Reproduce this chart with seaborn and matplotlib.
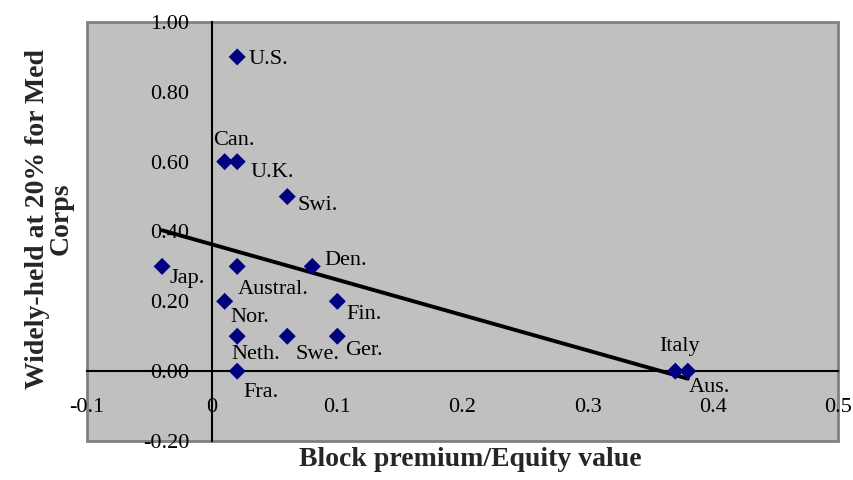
import matplotlib
matplotlib.use("Agg")
import matplotlib.pyplot as plt
import seaborn as sns
import numpy as np
import pandas as pd
from matplotlib.patches import Rectangle

# data
countries = ["U.S.", "Can.", "U.K.", "Swi.", "Jap.", "Austral.", "Den.", "Nor.",
             "Fin.", "Neth.", "Swe.", "Ger.", "Fra.", "Italy", "Aus."]
block_premium = [0.02, 0.01, 0.02, 0.06, -0.04, 0.02, 0.08, 0.01,
                 0.10, 0.02, 0.06, 0.10, 0.02, 0.37, 0.38]
widely_held = [0.90, 0.60, 0.60, 0.50, 0.30, 0.30, 0.30, 0.20,
               0.20, 0.10, 0.10, 0.10, 0.00, 0.00, 0.00]

x_ticks = [-0.1, 0.0, 0.1, 0.2, 0.3, 0.4, 0.5]
x_tick_labels = ["-0.1", "0", "0.1", "0.2", "0.3", "0.4", "0.5"]
y_ticks = [-0.2, 0.0, 0.2, 0.4, 0.6, 0.8, 1.0]
y_tick_labels = ["-0.20", "0.00", "0.20", "0.40", "0.60", "0.80", "1.00"]

# where each country name sits next to its marker (pixels, up is positive)
label_offsets = {
    "U.S.": (11, -3), "Can.": (-12, 21), "U.K.": (13, -11), "Swi.": (10, -9),
    "Jap.": (7, -12), "Austral.": (1, -23), "Den.": (12, 6), "Nor.": (6, -16),
    "Fin.": (9, -13), "Neth.": (-6, -18), "Swe.": (8, -18), "Ger.": (8, -14),
    "Fra.": (6, -21), "Italy": (-16, 25), "Aus.": (1, -16),
}

df = pd.DataFrame({"country": countries, "premium": block_premium, "held": widely_held})

sns.set_style("white")
plt.rcParams["font.family"] = ["Liberation Serif", "DejaVu Serif"]

fig = plt.figure(figsize=(8.54, 4.8), dpi=100)
ax = fig.add_axes([87 / 854, 39 / 480, 751 / 854, 419 / 480])
ax.set_facecolor("#C0C0C0")

# trend line over the data range
sns.regplot(data=df, x="premium", y="held", scatter=False, ci=None, truncate=True,
            line_kws=dict(color="black", lw=2.8), ax=ax)
sns.scatterplot(data=df, x="premium", y="held", marker="D", s=75, color="#000080",
                edgecolor="none", ax=ax, zorder=5)

for name, xv, yv in zip(countries, block_premium, widely_held):
    dx, dy = label_offsets[name]
    ax.annotate(name, (xv, yv), xytext=(dx, dy), textcoords="offset pixels",
                ha="left", va="center", fontsize=16, color="black")

ax.set_xlim(-0.1, 0.5)
ax.set_ylim(-0.2, 1.0)
ax.set_xticks(x_ticks)
ax.set_xticklabels(x_tick_labels)
ax.set_yticks(y_ticks)
ax.set_yticklabels(y_tick_labels)

# axes cross at zero, excel style
ax.spines["left"].set_position(("data", 0))
ax.spines["bottom"].set_position(("data", 0))
for s in ["left", "bottom"]:
    ax.spines[s].set_color("black")
    ax.spines[s].set_linewidth(1.5)
for s in ["top", "right"]:
    ax.spines[s].set_visible(False)
ax.add_patch(Rectangle((0, 0), 1, 1, transform=ax.transAxes, fill=False,
                       edgecolor="#808080", lw=2, clip_on=False, zorder=0.5))

ax.tick_params(axis="x", direction="inout", length=8, width=1.2, pad=15,
               labelsize=16, colors="black")
ax.tick_params(axis="y", direction="out", length=4.5, width=1.2, pad=12,
               labelsize=16, colors="black")

ax.set_xlabel("Block premium/Equity value", fontsize=20, fontweight="bold", va="center")
ax.xaxis.set_label_coords(0.51, -0.045)
ax.set_ylabel("Widely-held at 20% for Med\nCorps", fontsize=20, fontweight="bold",
              va="center", linespacing=0.95)
ax.yaxis.set_label_coords(-0.05, 0.53)

fig.savefig("out.png", dpi=100)
